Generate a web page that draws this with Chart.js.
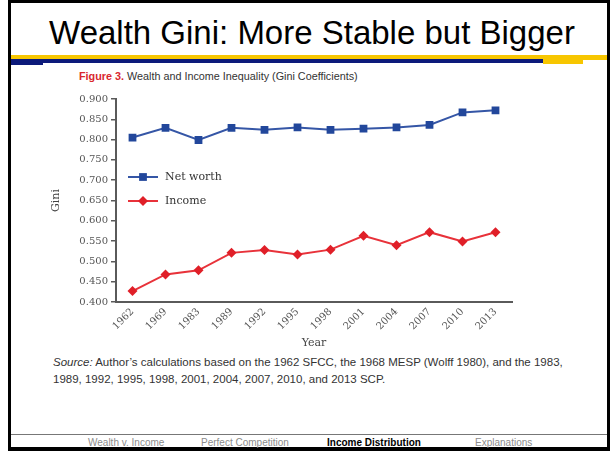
<!DOCTYPE html>
<html lang="en">
<head>
<meta charset="UTF-8">
<title>Wealth Gini</title>
<script src="https://cdn.jsdelivr.net/npm/chart.js@4"></script>
<style>
  * { box-sizing: border-box; margin: 0; padding: 0; }
  body { width: 613px; height: 451px; background: #fff; position: relative; overflow: hidden;
         font-family: "Liberation Sans", Arial, sans-serif; }
  .frame { position: absolute; left: 8px; top: 0; width: 602px; height: 451px;
           border: 3px solid #000; border-bottom-width: 4px; }
  .band { position: absolute; }
  .title { position: absolute; left: 0; width: 624px; top: 14px; text-align: center;
           font-size: 33px; line-height: 38px; color: #000; }
  .caption { position: absolute; left: 79px; top: 70px; font-size: 10.8px; color: #333; }
  .caption b { color: #d9272e; }
  .source { position: absolute; left: 53px; top: 354px; font-size: 11.5px; line-height: 17px; color: #333; }
  .foot { position: absolute; top: 437px; font-size: 10px; color: #8c8c8c; }
  .foot.on { color: #000; font-weight: bold; }
  #chart { position: absolute; left: 50px; top: 85px; }
</style>
</head>
<body>
<div class="frame"></div>
<div class="band" style="left:11px;top:55px;width:596px;height:5px;background:#f7c600"></div>
<div class="band" style="left:543px;top:60px;width:40px;height:4px;background:#f7c600"></div>
<div class="band" style="left:11px;top:59px;width:532px;height:4px;background:#0c1a7a"></div>
<div class="band" style="left:11px;top:63px;width:32px;height:2px;background:#0c1a7a"></div>
<div class="band" style="left:11px;top:434px;width:596px;height:1px;background:#777"></div>

<div class="title">Wealth Gini: More Stable but Bigger</div>
<div class="caption"><b>Figure 3.</b> Wealth and Income Inequality (Gini Coefficients)</div>

<canvas id="chart" width="470" height="265"></canvas>

<div class="source"><i>Source:</i> Author’s calculations based on the 1962 SFCC, the 1968 MESP (Wolff 1980), and the 1983,<br>1989, 1992, 1995, 1998, 2001, 2004, 2007, 2010, and 2013 SCP.</div>

<div class="foot" style="left:88px">Wealth v. Income</div>
<div class="foot" style="left:201px">Perfect Competition</div>
<div class="foot on" style="left:327px">Income Distribution</div>
<div class="foot" style="left:475px">Explanations</div>

<script>
const years = ['1962', '1969', '1983', '1989', '1992', '1995', '1998', '2001', '2004', '2007', '2010', '2013'];
const networth = [0.805, 0.829, 0.799, 0.829, 0.824, 0.830, 0.824, 0.827, 0.830, 0.836, 0.867, 0.872];
const income = [0.427, 0.468, 0.478, 0.521, 0.528, 0.517, 0.529, 0.563, 0.540, 0.572, 0.549, 0.572];

const serif = '"DejaVu Serif", "Liberation Serif", serif';
const axisColor = '#5a5a5a';

// legende dessinee dans la zone du graphique
const legendeInterne = {
  id: 'legendeInterne',
  afterDatasetsDraw(chart) {
    const ctx = chart.ctx;
    const a = chart.chartArea;
    chart.data.datasets.forEach((ds, i) => {
      const y = a.top + 78 + i * 24;
      const x0 = a.left + 12, x1 = a.left + 42;
      const cx = (x0 + x1) / 2;
      ctx.save();
      ctx.strokeStyle = ds.borderColor;
      ctx.lineWidth = 2;
      ctx.beginPath();
      ctx.moveTo(x0, y);
      ctx.lineTo(x1, y);
      ctx.stroke();
      ctx.fillStyle = ds.pointBackgroundColor;
      ctx.beginPath();
      const r = ds.pointRadius;
      if (ds.pointStyle === 'rect') {
        const s = r * Math.SQRT1_2;
        ctx.rect(cx - s, y - s, 2 * s, 2 * s);
      } else {
        ctx.moveTo(cx, y - r); ctx.lineTo(cx + r, y); ctx.lineTo(cx, y + r); ctx.lineTo(cx - r, y); ctx.closePath();
      }
      ctx.fill();
      ctx.fillStyle = '#333';
      ctx.font = '11px ' + serif;
      ctx.textBaseline = 'middle';
      ctx.fillText(ds.label, x1 + 7, y);
      ctx.restore();
    });
  }
};

new Chart(document.getElementById('chart'), {
  type: 'line',
  data: {
    labels: years,
    datasets: [
      {
        label: 'Net worth',
        data: networth,
        borderColor: '#3556a6',
        borderWidth: 2,
        pointStyle: 'rect',
        pointRadius: 5.5,
        pointBackgroundColor: '#22479b',
        pointBorderColor: '#22479b',
        pointBorderWidth: 0
      },
      {
        label: 'Income',
        data: income,
        borderColor: '#e8323a',
        borderWidth: 2,
        pointStyle: 'rectRot',
        pointRadius: 5,
        pointBackgroundColor: '#e01f28',
        pointBorderColor: '#e01f28',
        pointBorderWidth: 0
      }
    ]
  },
  options: {
    responsive: false,
    animation: false,
    devicePixelRatio: 1,
    layout: { padding: { left: 0, top: 14, right: 8, bottom: 0 } },
    plugins: { legend: { display: false }, tooltip: { enabled: false } },
    scales: {
      x: {
        offset: true,
        afterFit: s => { s.height = 48; },
        grid: { display: true, drawOnChartArea: false, drawTicks: false },
        border: { display: true, color: axisColor, width: 2 },
        ticks: { minRotation: 45, maxRotation: 45, padding: 4, color: '#555', font: { family: serif, size: 10 } },
        title: { display: true, text: 'Year', color: '#444', padding: 0, font: { family: serif, size: 11 } }
      },
      y: {
        min: 0.4,
        max: 0.9,
        afterFit: s => { s.width = 66; },
        grid: { display: true, drawOnChartArea: false, tickLength: 5, color: axisColor, lineWidth: 1.5 },
        border: { display: true, color: axisColor, width: 2 },
        ticks: { stepSize: 0.05, padding: 3, color: '#555', font: { family: serif, size: 10 },
                 callback: v => v.toFixed(3) },
        title: { display: true, text: 'Gini', color: '#444', padding: 0, font: { family: serif, size: 11 } }
      }
    }
  },
  plugins: [legendeInterne]
});
</script>
</body>
</html>
